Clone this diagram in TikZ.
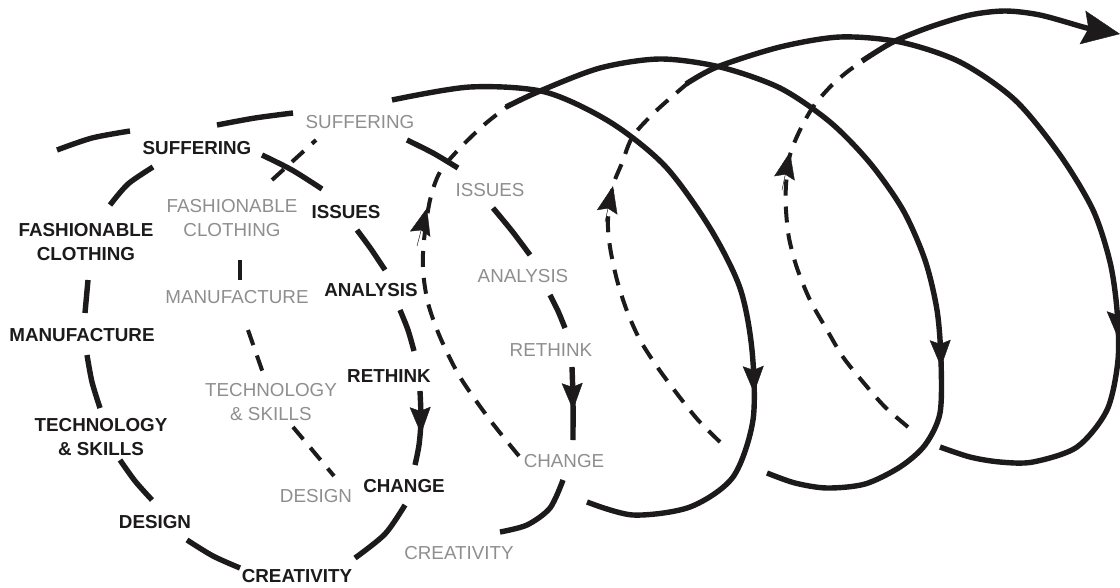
\documentclass[tikz,border=0pt]{standalone}
\usepackage{fontspec}
\setmainfont{Liberation Sans}
\usetikzlibrary{arrows.meta}
\definecolor{ink}{RGB}{28,26,27}
\definecolor{greytext}{RGB}{142,142,142}
\begin{document}
\begin{tikzpicture}[x=1pt,y=-1pt,
  front/.style={line width=5.4pt, draw=ink},
  back/.style={line width=4pt, draw=ink, dash pattern=on 16pt off 11pt},
  head/.style={draw=ink, fill=ink, line width=0.4pt, -{Stealth[length=27pt,width=21pt,inset=4pt]}},
  bighead/.style={draw=ink, fill=ink, line width=0.4pt, -{Stealth[length=38pt,width=34pt,inset=6pt]}},
  blk/.style={font=\fontsize{18.8}{24.5}\selectfont\bfseries, text=ink, align=center, inner sep=0pt},
  gry/.style={font=\fontsize{18.8}{24.5}\selectfont, text=greytext, align=center, inner sep=0pt}
]
\useasboundingbox (0,0) rectangle (1120,587);

% ---------- black labels ----------
\node[blk] (bsuf)  at (197,148) {SUFFERING};
\node[blk] (biss)  at (346,212) {ISSUES};
\node[blk] (bfash) at (86,242)  {FASHIONABLE\\CLOTHING};
\node[blk] (bana)  at (371,290) {ANALYSIS};
\node[blk] (bman)  at (82,335)  {MANUFACTURE};
\node[blk] (bret)  at (389,376) {RETHINK};
\node[blk] (btech) at (101,437) {TECHNOLOGY\\\& SKILLS};
\node[blk] (bcha)  at (404,486) {CHANGE};
\node[blk] (bdes)  at (155,522) {DESIGN};
\node[blk] (bcre)  at (297,576) {CREATIVITY};

% ---------- grey labels ----------
\node[gry] (gsuf)  at (360,122) {SUFFERING};
\node[gry] (gfash) at (232,218) {FASHIONABLE\\CLOTHING};
\node[gry] (giss)  at (490,190) {ISSUES};
\node[gry] (gman)  at (237,297) {MANUFACTURE};
\node[gry] (gana)  at (523,276) {ANALYSIS};
\node[gry] (gtech) at (271,402) {TECHNOLOGY\\\& SKILLS};
\node[gry] (gret)  at (551,350) {RETHINK};
\node[gry] (gdes)  at (316,496) {DESIGN};
\node[gry] (gcha)  at (564,461) {CHANGE};
\node[gry] (gcre)  at (459,553) {CREATIVITY};

% ---------- first (black) loop ----------
\draw[front] plot[smooth] coordinates {(262,155) (292,170) (322,189)};
\draw[front] plot[smooth] coordinates {(357,230) (371,249) (385,270)};
\draw[front] plot[smooth] coordinates {(400,310) (408,330) (414,351)};
\draw[front] plot[smooth] coordinates {(420,391) (421,420) (419,445) (415,465)};
\draw[front] plot[smooth] coordinates {(405,505) (385,534) (355,558)};
\draw[front] plot[smooth] coordinates {(240,568) (213,556) (187,540)};
\draw[front] plot[smooth] coordinates {(152,500) (135,481) (120,460)};
\draw[front] plot[smooth] coordinates {(100,408) (92,382) (87,355)};
\draw[front] (88,280) -- (85,313);
\draw[front] plot[smooth] coordinates {(110,205) (128,184) (153,167)};
\draw[head] (420,400) -- (421,434);

% ---------- second (grey) loop ----------
\draw[front] plot[smooth] coordinates {(57,150) (92,138) (130,131)};
\draw[front] plot[smooth] coordinates {(217,125) (255,118) (293,113)};
\draw[front] plot[smooth] coordinates {(407,140) (433,153) (458,168)};
\draw[front] plot[smooth] coordinates {(493,208) (512,231) (530,255)};
\draw[front] plot[smooth] coordinates {(550,295) (558,311) (565,328)};
\draw[front] plot[smooth] coordinates {(572,367) (573,400) (573,440)};
\draw[front] plot[smooth] coordinates {(563,480) (550,508) (527,525) (500,532)};
\draw[head] (572,376) -- (573,410);
\draw[back] (272,180) -- (316,140);
\draw[line width=4pt, draw=ink] (240,260) -- (240,280);
\draw[back] (248,330) -- (263,373);
\draw[back] (293,427) -- (334,476);

% ---------- arc A ----------
\draw[front] plot[smooth] coordinates {(392,100) (470,87) (545,92) (610,122) (665,166) (710,228) (740,288) (752,350) (753,420) (733,477) (690,507) (633,515) (587,502)};
\draw[head] (753,358) -- (754,393);

% ---------- back D1 and arc B ----------
\draw[back] plot[smooth] coordinates {(519,456) (490,420) (460,377) (440,337) (428,303) (423,270) (424,240) (430,200) (440,172) (460,148) (485,124) (508,106)};
\draw[head] (417,246) -- (427,208);
\draw[front] plot[smooth] coordinates {(506,107) (540,91) (600,68) (660,59) (720,67) (780,88) (830,122) (870,163) (903,210) (925,260) (937,310) (941,360) (940,413) (925,445) (900,467) (865,484) (827,488) (795,483) (767,473)};
\draw[head] (940,333) -- (941,367);

% ---------- back D2 and arc C ----------
\draw[back] plot[smooth] coordinates {(720,442) (698,420) (678,395) (658,368) (640,340) (627,311) (617,280) (610,247) (608,220) (613,186) (622,163) (633,136) (657,110) (688,83)};
\draw[head] (605,222) -- (613,186);
\draw[front] plot[smooth] coordinates {(686,84) (717,67) (780,47) (840,37) (900,42) (960,62) (1015,100) (1060,155) (1093,210) (1110,262) (1117,310) (1118,360) (1107,410) (1077,447) (1033,462) (1000,462) (970,457) (940,447)};
\draw[head] (1117,303) -- (1118,338);

% ---------- back D3 and exit ----------
\draw[back] plot[smooth] coordinates {(908,427) (885,407) (863,382) (843,357) (827,330) (810,300) (797,268) (789,238) (786,210) (786,185) (790,155) (800,130) (813,107) (830,87) (847,72) (864,60)};
\draw[head] (782,190) -- (790,152);
\draw[front] plot[smooth] coordinates {(862,61) (893,42) (930,27) (970,15) (1005,11) (1040,15) (1083,27) (1095,30)};
\draw[bighead] (1074,26) -- (1120,34);
\end{tikzpicture}
\end{document}
